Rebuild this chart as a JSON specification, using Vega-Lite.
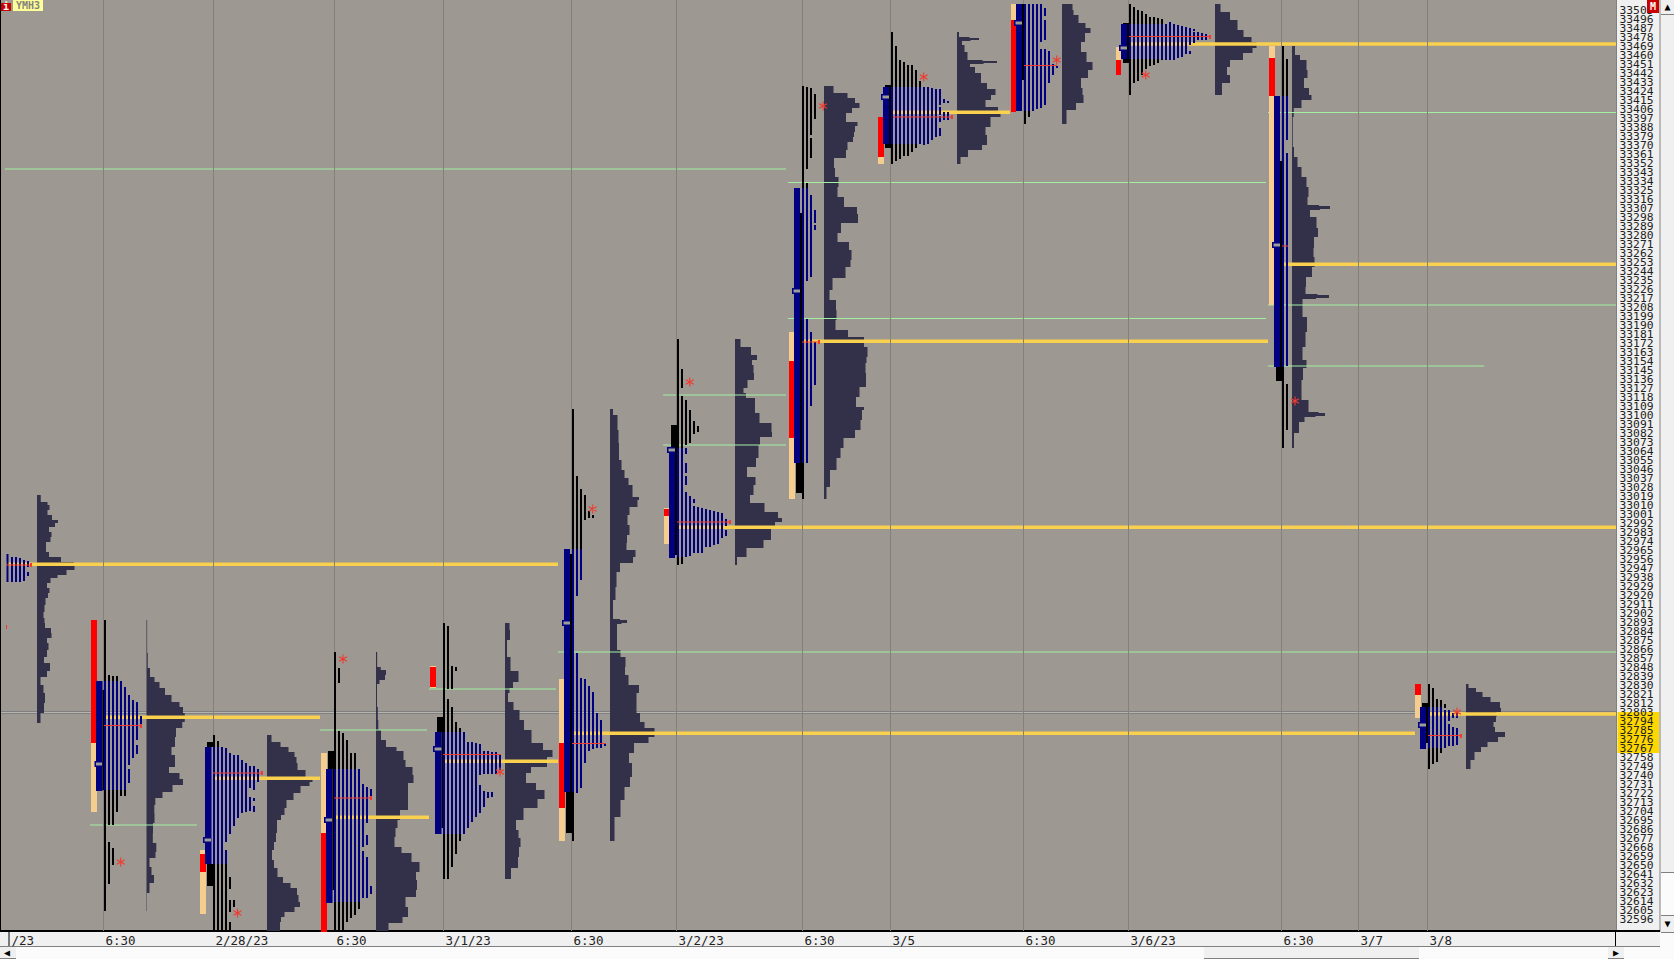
{"$schema":"https://vega.github.io/schema/vega-lite/v6.json","width":1617,"height":931,"autosize":{"type":"none"},"padding":{"left":0,"top":0,"right":57,"bottom":28},"background":"#f0f0f0","view":{"fill":"#9d9891","stroke":null},"config":{"axis":{"labelOverlap":false}},
"datasets":{
"levels":[{"y":33505},{"y":33496},{"y":33487},{"y":33478},{"y":33469},{"y":33460},{"y":33451},{"y":33442},{"y":33433},{"y":33424},{"y":33415},{"y":33406},{"y":33397},{"y":33388},{"y":33379},{"y":33370},{"y":33361},{"y":33352},{"y":33343},{"y":33334},{"y":33325},{"y":33316},{"y":33307},{"y":33298},{"y":33289},{"y":33280},{"y":33271},{"y":33262},{"y":33253},{"y":33244},{"y":33235},{"y":33226},{"y":33217},{"y":33208},{"y":33199},{"y":33190},{"y":33181},{"y":33172},{"y":33163},{"y":33154},{"y":33145},{"y":33136},{"y":33127},{"y":33118},{"y":33109},{"y":33100},{"y":33091},{"y":33082},{"y":33073},{"y":33064},{"y":33055},{"y":33046},{"y":33037},{"y":33028},{"y":33019},{"y":33010},{"y":33001},{"y":32992},{"y":32983},{"y":32974},{"y":32965},{"y":32956},{"y":32947},{"y":32938},{"y":32929},{"y":32920},{"y":32911},{"y":32902},{"y":32893},{"y":32884},{"y":32875},{"y":32866},{"y":32857},{"y":32848},{"y":32839},{"y":32830},{"y":32821},{"y":32812},{"y":32803},{"y":32794},{"y":32785},{"y":32776},{"y":32767},{"y":32758},{"y":32749},{"y":32740},{"y":32731},{"y":32722},{"y":32713},{"y":32704},{"y":32695},{"y":32686},{"y":32677},{"y":32668},{"y":32659},{"y":32650},{"y":32641},{"y":32632},{"y":32623},{"y":32614},{"y":32605},{"y":32596}],
"back":[
{"s":"h","a":1617.5,"b":1659,"t":32804,"u":32763},
{"s":"x","a":1616,"b":1617,"t":33516,"u":32585},
{"s":"w","a":1660,"b":1674,"t":33516,"u":32557},
{"s":"c","a":1660.5,"b":1674,"t":33501,"u":32644},
{"s":"x","a":1659.5,"b":1660.5,"t":33516,"u":32584},
{"s":"x","a":1661,"b":1674,"t":32644,"u":32643},
{"s":"c","a":1661,"b":1674,"t":33516,"u":33502},
{"s":"x","a":1661,"b":1674,"t":33502,"u":33501},
{"s":"c","a":1661,"b":1674,"t":32600,"u":32584},
{"s":"x","a":1661,"b":1674,"t":32584,"u":32583},
{"s":"x","a":1661,"b":1674,"t":32601,"u":32600},
{"s":"w","a":0,"b":1674,"t":32569,"u":32557},
{"s":"x","a":0,"b":1660,"t":32570,"u":32569},
{"s":"c","a":1204,"b":1419,"t":32569,"u":32558},
{"s":"x","a":1204,"b":1419,"t":32558,"u":32557},
{"s":"c","a":0,"b":16,"t":32569,"u":32558},
{"s":"x","a":0,"b":16,"t":32558,"u":32557},
{"s":"c","a":1608,"b":1624,"t":32569,"u":32558},
{"s":"x","a":1608,"b":1624,"t":32558,"u":32557},
{"s":"k","a":0,"b":1660,"t":32586,"u":32584},
{"s":"k","a":1615,"b":1616,"t":32585,"u":32570},
{"s":"k","a":8.5,"b":9.5,"t":32585,"u":32570},
{"s":"k","a":0,"b":1,"t":33516,"u":32585},
{"s":"x","a":1,"b":1616,"t":32805,"u":32804},
{"s":"v","a":1,"b":1616,"t":32804,"u":32803},
{"s":"x","a":1,"b":1616,"t":32803,"u":32802}
],
"vp":[
{"p":0,"b":37,"x":38.5,"y":33021},{"p":0,"b":37,"x":43,"y":33014},{"p":0,"b":37,"x":52,"y":33011},{"p":0,"b":37,"x":47,"y":33006},{"p":0,"b":37,"x":48,"y":33001},{"p":0,"b":37,"x":56,"y":32996},{"p":0,"b":37,"x":60,"y":32993},{"p":0,"b":37,"x":50,"y":32989},{"p":0,"b":37,"x":48,"y":32984},{"p":0,"b":37,"x":55,"y":32979},{"p":0,"b":37,"x":46,"y":32974},{"p":0,"b":37,"x":46,"y":32969},{"p":0,"b":37,"x":46,"y":32964},{"p":0,"b":37,"x":52,"y":32959},{"p":0,"b":37,"x":70,"y":32954},{"p":0,"b":37,"x":78,"y":32950},{"p":0,"b":37,"x":71,"y":32946},{"p":0,"b":37,"x":62,"y":32941},{"p":0,"b":37,"x":53,"y":32938},{"p":0,"b":37,"x":48,"y":32933},{"p":0,"b":37,"x":46,"y":32928},{"p":0,"b":37,"x":53,"y":32923},{"p":0,"b":37,"x":43,"y":32918},{"p":0,"b":37,"x":48,"y":32911},{"p":0,"b":37,"x":41,"y":32904},{"p":0,"b":37,"x":46,"y":32898},{"p":0,"b":37,"x":43,"y":32893},{"p":0,"b":37,"x":47,"y":32888},{"p":0,"b":37,"x":55,"y":32883},{"p":0,"b":37,"x":48,"y":32878},{"p":0,"b":37,"x":46,"y":32873},{"p":0,"b":37,"x":51,"y":32866},{"p":0,"b":37,"x":43,"y":32859},{"p":0,"b":37,"x":45,"y":32853},{"p":0,"b":37,"x":55,"y":32845},{"p":0,"b":37,"x":39,"y":32839},{"p":0,"b":37,"x":42,"y":32831},{"p":0,"b":37,"x":45,"y":32823},{"p":0,"b":37,"x":45,"y":32813},{"p":0,"b":37,"x":43,"y":32803},{"p":0,"b":37,"x":38,"y":32793},
{"p":1,"b":146.5,"x":146.8,"y":32896},{"p":1,"b":146.5,"x":147.5,"y":32863},{"p":1,"b":146.5,"x":148,"y":32848},{"p":1,"b":146.5,"x":152,"y":32839},{"p":1,"b":146.5,"x":157,"y":32834},{"p":1,"b":146.5,"x":162,"y":32828},{"p":1,"b":146.5,"x":168,"y":32821},{"p":1,"b":146.5,"x":175,"y":32814},{"p":1,"b":146.5,"x":184,"y":32809},{"p":1,"b":146.5,"x":182,"y":32803},{"p":1,"b":146.5,"x":187.5,"y":32794},{"p":1,"b":146.5,"x":177,"y":32788},{"p":1,"b":146.5,"x":175,"y":32779},{"p":1,"b":146.5,"x":175,"y":32769},{"p":1,"b":146.5,"x":168,"y":32761},{"p":1,"b":146.5,"x":182,"y":32756},{"p":1,"b":146.5,"x":168,"y":32749},{"p":1,"b":146.5,"x":170,"y":32743},{"p":1,"b":146.5,"x":189,"y":32737},{"p":1,"b":146.5,"x":177,"y":32731},{"p":1,"b":146.5,"x":168,"y":32724},{"p":1,"b":146.5,"x":157,"y":32718},{"p":1,"b":146.5,"x":153.6,"y":32711},{"p":1,"b":146.5,"x":155,"y":32703},{"p":1,"b":146.5,"x":154,"y":32693},{"p":1,"b":146.5,"x":152,"y":32683},{"p":1,"b":146.5,"x":153.6,"y":32673},{"p":1,"b":146.5,"x":159,"y":32664},{"p":1,"b":146.5,"x":152,"y":32658},{"p":1,"b":146.5,"x":147,"y":32649},{"p":1,"b":146.5,"x":156,"y":32641},{"p":1,"b":146.5,"x":152,"y":32633},{"p":1,"b":146.5,"x":147,"y":32623},{"p":1,"b":146.5,"x":146.8,"y":32605},
{"p":2,"b":267,"x":268,"y":32781},{"p":2,"b":267,"x":275,"y":32774},{"p":2,"b":267,"x":286,"y":32769},{"p":2,"b":267,"x":291,"y":32764},{"p":2,"b":267,"x":298,"y":32759},{"p":2,"b":267,"x":295,"y":32753},{"p":2,"b":267,"x":300,"y":32746},{"p":2,"b":267,"x":311,"y":32739},{"p":2,"b":267,"x":314,"y":32734},{"p":2,"b":267,"x":305,"y":32730},{"p":2,"b":267,"x":296,"y":32723},{"p":2,"b":267,"x":291,"y":32716},{"p":2,"b":267,"x":282,"y":32708},{"p":2,"b":267,"x":287,"y":32701},{"p":2,"b":267,"x":275,"y":32696},{"p":2,"b":267,"x":279,"y":32689},{"p":2,"b":267,"x":275,"y":32683},{"p":2,"b":267,"x":277,"y":32674},{"p":2,"b":267,"x":271,"y":32666},{"p":2,"b":267,"x":273,"y":32656},{"p":2,"b":267,"x":275,"y":32648},{"p":2,"b":267,"x":280,"y":32639},{"p":2,"b":267,"x":286,"y":32633},{"p":2,"b":267,"x":295,"y":32628},{"p":2,"b":267,"x":299,"y":32621},{"p":2,"b":267,"x":298,"y":32614},{"p":2,"b":267,"x":302,"y":32609},{"p":2,"b":267,"x":287,"y":32604},{"p":2,"b":267,"x":282,"y":32599},{"p":2,"b":267,"x":280,"y":32594},{"p":2,"b":267,"x":280,"y":32585},
{"p":3,"b":376,"x":376.8,"y":32864},{"p":3,"b":376,"x":377.5,"y":32849},{"p":3,"b":376,"x":384,"y":32846},{"p":3,"b":376,"x":388,"y":32841},{"p":3,"b":376,"x":382,"y":32836},{"p":3,"b":376,"x":377,"y":32832},{"p":3,"b":376,"x":377,"y":32809},{"p":3,"b":376,"x":378.6,"y":32796},{"p":3,"b":376,"x":378,"y":32786},{"p":3,"b":376,"x":384,"y":32776},{"p":3,"b":376,"x":388,"y":32769},{"p":3,"b":376,"x":405,"y":32765},{"p":3,"b":376,"x":402,"y":32756},{"p":3,"b":376,"x":409,"y":32749},{"p":3,"b":376,"x":416,"y":32741},{"p":3,"b":376,"x":411,"y":32733},{"p":3,"b":376,"x":405,"y":32723},{"p":3,"b":376,"x":411,"y":32713},{"p":3,"b":376,"x":405,"y":32706},{"p":3,"b":376,"x":395,"y":32696},{"p":3,"b":376,"x":400,"y":32688},{"p":3,"b":376,"x":391,"y":32679},{"p":3,"b":376,"x":398,"y":32669},{"p":3,"b":376,"x":405,"y":32663},{"p":3,"b":376,"x":418,"y":32654},{"p":3,"b":376,"x":421,"y":32644},{"p":3,"b":376,"x":411,"y":32636},{"p":3,"b":376,"x":423,"y":32626},{"p":3,"b":376,"x":409,"y":32619},{"p":3,"b":376,"x":402,"y":32609},{"p":3,"b":376,"x":414,"y":32599},{"p":3,"b":376,"x":391,"y":32593},{"p":3,"b":376,"x":386,"y":32585},
{"p":4,"b":505,"x":506,"y":32893},{"p":4,"b":505,"x":513,"y":32886},{"p":4,"b":505,"x":507,"y":32876},{"p":4,"b":505,"x":507,"y":32859},{"p":4,"b":505,"x":514,"y":32845},{"p":4,"b":505,"x":523,"y":32839},{"p":4,"b":505,"x":514,"y":32834},{"p":4,"b":505,"x":512,"y":32828},{"p":4,"b":505,"x":507,"y":32823},{"p":4,"b":505,"x":509,"y":32814},{"p":4,"b":505,"x":518,"y":32806},{"p":4,"b":505,"x":521,"y":32796},{"p":4,"b":505,"x":527,"y":32786},{"p":4,"b":505,"x":536,"y":32773},{"p":4,"b":505,"x":550,"y":32766},{"p":4,"b":505,"x":555,"y":32759},{"p":4,"b":505,"x":539,"y":32749},{"p":4,"b":505,"x":523,"y":32743},{"p":4,"b":505,"x":529,"y":32733},{"p":4,"b":505,"x":543,"y":32726},{"p":4,"b":505,"x":546,"y":32717},{"p":4,"b":505,"x":529,"y":32708},{"p":4,"b":505,"x":518,"y":32696},{"p":4,"b":505,"x":514,"y":32686},{"p":4,"b":505,"x":523,"y":32678},{"p":4,"b":505,"x":518,"y":32669},{"p":4,"b":505,"x":520,"y":32659},{"p":4,"b":505,"x":516,"y":32648},{"p":4,"b":505,"x":506,"y":32637},
{"p":5,"b":610,"x":611,"y":33107},{"p":5,"b":610,"x":615,"y":33101},{"p":5,"b":610,"x":620,"y":33086},{"p":5,"b":610,"x":617,"y":33073},{"p":5,"b":610,"x":621,"y":33056},{"p":5,"b":610,"x":622,"y":33046},{"p":5,"b":610,"x":627,"y":33038},{"p":5,"b":610,"x":630,"y":33031},{"p":5,"b":610,"x":635,"y":33019},{"p":5,"b":610,"x":643,"y":33016},{"p":5,"b":610,"x":632,"y":33009},{"p":5,"b":610,"x":627,"y":33001},{"p":5,"b":610,"x":628,"y":32991},{"p":5,"b":610,"x":631,"y":32981},{"p":5,"b":610,"x":623,"y":32973},{"p":5,"b":610,"x":630,"y":32966},{"p":5,"b":610,"x":641,"y":32959},{"p":5,"b":610,"x":625,"y":32953},{"p":5,"b":610,"x":615,"y":32944},{"p":5,"b":610,"x":618,"y":32929},{"p":5,"b":610,"x":613,"y":32916},{"p":5,"b":610,"x":613,"y":32897},{"p":5,"b":610,"x":627,"y":32896},{"p":5,"b":610,"x":627,"y":32893},{"p":5,"b":610,"x":616,"y":32892},{"p":5,"b":610,"x":618,"y":32866},{"p":5,"b":610,"x":623,"y":32859},{"p":5,"b":610,"x":628,"y":32849},{"p":5,"b":610,"x":622,"y":32841},{"p":5,"b":610,"x":635,"y":32831},{"p":5,"b":610,"x":643,"y":32823},{"p":5,"b":610,"x":630,"y":32814},{"p":5,"b":610,"x":643,"y":32803},{"p":5,"b":610,"x":637,"y":32794},{"p":5,"b":610,"x":652,"y":32788},{"p":5,"b":610,"x":657,"y":32779},{"p":5,"b":610,"x":640,"y":32773},{"p":5,"b":610,"x":628,"y":32763},{"p":5,"b":610,"x":630,"y":32753},{"p":5,"b":610,"x":634,"y":32739},{"p":5,"b":610,"x":626,"y":32729},{"p":5,"b":610,"x":623,"y":32716},{"p":5,"b":610,"x":618,"y":32699},{"p":5,"b":610,"x":611,"y":32675},
{"p":6,"b":735,"x":736,"y":33177},{"p":6,"b":735,"x":745,"y":33169},{"p":6,"b":735,"x":757,"y":33161},{"p":6,"b":735,"x":757,"y":33156},{"p":6,"b":735,"x":747,"y":33151},{"p":6,"b":735,"x":760,"y":33143},{"p":6,"b":735,"x":748,"y":33136},{"p":6,"b":735,"x":747,"y":33128},{"p":6,"b":735,"x":740,"y":33123},{"p":6,"b":735,"x":752,"y":33118},{"p":6,"b":735,"x":758,"y":33109},{"p":6,"b":735,"x":752,"y":33103},{"p":6,"b":735,"x":767,"y":33093},{"p":6,"b":735,"x":776,"y":33084},{"p":6,"b":735,"x":768,"y":33079},{"p":6,"b":735,"x":752,"y":33071},{"p":6,"b":735,"x":765,"y":33058},{"p":6,"b":735,"x":747,"y":33049},{"p":6,"b":735,"x":747,"y":33039},{"p":6,"b":735,"x":764,"y":33031},{"p":6,"b":735,"x":743,"y":33021},{"p":6,"b":735,"x":757,"y":33013},{"p":6,"b":735,"x":772,"y":33004},{"p":6,"b":735,"x":784,"y":32998},{"p":6,"b":735,"x":780,"y":32994},{"p":6,"b":735,"x":770,"y":32988},{"p":6,"b":735,"x":772,"y":32976},{"p":6,"b":735,"x":755,"y":32968},{"p":6,"b":735,"x":738,"y":32959},{"p":6,"b":735,"x":736,"y":32951},
{"p":7,"b":824,"x":825,"y":33430},{"p":7,"b":824,"x":842,"y":33423},{"p":7,"b":824,"x":853,"y":33418},{"p":7,"b":824,"x":857,"y":33413},{"p":7,"b":824,"x":862,"y":33408},{"p":7,"b":824,"x":842,"y":33403},{"p":7,"b":824,"x":850,"y":33394},{"p":7,"b":824,"x":865,"y":33390},{"p":7,"b":824,"x":845,"y":33384},{"p":7,"b":824,"x":863,"y":33379},{"p":7,"b":824,"x":843,"y":33374},{"p":7,"b":824,"x":852,"y":33366},{"p":7,"b":824,"x":840,"y":33358},{"p":7,"b":824,"x":828,"y":33348},{"p":7,"b":824,"x":842,"y":33339},{"p":7,"b":824,"x":835,"y":33329},{"p":7,"b":824,"x":840,"y":33319},{"p":7,"b":824,"x":848,"y":33309},{"p":7,"b":824,"x":866,"y":33302},{"p":7,"b":824,"x":850,"y":33293},{"p":7,"b":824,"x":832,"y":33283},{"p":7,"b":824,"x":843,"y":33274},{"p":7,"b":824,"x":855,"y":33266},{"p":7,"b":824,"x":848,"y":33256},{"p":7,"b":824,"x":853,"y":33249},{"p":7,"b":824,"x":838,"y":33238},{"p":7,"b":824,"x":827,"y":33226},{"p":7,"b":824,"x":832,"y":33216},{"p":7,"b":824,"x":840,"y":33206},{"p":7,"b":824,"x":833,"y":33196},{"p":7,"b":824,"x":838,"y":33186},{"p":7,"b":824,"x":858,"y":33179},{"p":7,"b":824,"x":870,"y":33169},{"p":7,"b":824,"x":865,"y":33159},{"p":7,"b":824,"x":868,"y":33153},{"p":7,"b":824,"x":863,"y":33143},{"p":7,"b":824,"x":869,"y":33129},{"p":7,"b":824,"x":850,"y":33119},{"p":7,"b":824,"x":862,"y":33109},{"p":7,"b":824,"x":866,"y":33106},{"p":7,"b":824,"x":858,"y":33096},{"p":7,"b":824,"x":863,"y":33086},{"p":7,"b":824,"x":847,"y":33078},{"p":7,"b":824,"x":840,"y":33068},{"p":7,"b":824,"x":841,"y":33058},{"p":7,"b":824,"x":832,"y":33046},{"p":7,"b":824,"x":828,"y":33029},{"p":7,"b":824,"x":825,"y":33017},
{"p":8,"b":957,"x":958,"y":33484},{"p":8,"b":957,"x":960,"y":33479},{"p":8,"b":957,"x":979,"y":33478},{"p":8,"b":957,"x":979,"y":33476},{"p":8,"b":957,"x":962,"y":33475},{"p":8,"b":957,"x":962,"y":33471},{"p":8,"b":957,"x":967,"y":33464},{"p":8,"b":957,"x":968,"y":33456},{"p":8,"b":957,"x":997,"y":33455},{"p":8,"b":957,"x":997,"y":33453},{"p":8,"b":957,"x":970,"y":33452},{"p":8,"b":957,"x":970,"y":33449},{"p":8,"b":957,"x":980,"y":33443},{"p":8,"b":957,"x":982,"y":33433},{"p":8,"b":957,"x":992,"y":33427},{"p":8,"b":957,"x":999,"y":33421},{"p":8,"b":957,"x":983,"y":33416},{"p":8,"b":957,"x":988,"y":33409},{"p":8,"b":957,"x":1008,"y":33404},{"p":8,"b":957,"x":993,"y":33399},{"p":8,"b":957,"x":988,"y":33389},{"p":8,"b":957,"x":983,"y":33381},{"p":8,"b":957,"x":991,"y":33371},{"p":8,"b":957,"x":973,"y":33366},{"p":8,"b":957,"x":963,"y":33359},{"p":8,"b":957,"x":958,"y":33352},
{"p":9,"b":1062,"x":1075,"y":33512},{"p":9,"b":1062,"x":1070,"y":33506},{"p":9,"b":1062,"x":1077,"y":33501},{"p":9,"b":1062,"x":1080,"y":33493},{"p":9,"b":1062,"x":1091,"y":33488},{"p":9,"b":1062,"x":1090,"y":33483},{"p":9,"b":1062,"x":1080,"y":33474},{"p":9,"b":1062,"x":1082,"y":33464},{"p":9,"b":1062,"x":1091,"y":33454},{"p":9,"b":1062,"x":1094,"y":33446},{"p":9,"b":1062,"x":1082,"y":33438},{"p":9,"b":1062,"x":1080,"y":33428},{"p":9,"b":1062,"x":1085,"y":33421},{"p":9,"b":1062,"x":1082,"y":33413},{"p":9,"b":1062,"x":1070,"y":33406},{"p":9,"b":1062,"x":1063,"y":33392},
{"p":10,"b":1215,"x":1216,"y":33512},{"p":10,"b":1215,"x":1225,"y":33504},{"p":10,"b":1215,"x":1235,"y":33496},{"p":10,"b":1215,"x":1240,"y":33486},{"p":10,"b":1215,"x":1247,"y":33479},{"p":10,"b":1215,"x":1256,"y":33474},{"p":10,"b":1215,"x":1257,"y":33468},{"p":10,"b":1215,"x":1248,"y":33463},{"p":10,"b":1215,"x":1238,"y":33456},{"p":10,"b":1215,"x":1222,"y":33449},{"p":10,"b":1215,"x":1232,"y":33441},{"p":10,"b":1215,"x":1228,"y":33433},{"p":10,"b":1215,"x":1216,"y":33421},
{"p":11,"b":1292,"x":1293,"y":33470},{"p":11,"b":1292,"x":1297,"y":33461},{"p":11,"b":1292,"x":1303,"y":33456},{"p":11,"b":1292,"x":1310,"y":33446},{"p":11,"b":1292,"x":1305,"y":33438},{"p":11,"b":1292,"x":1303,"y":33428},{"p":11,"b":1292,"x":1315,"y":33421},{"p":11,"b":1292,"x":1308,"y":33416},{"p":11,"b":1292,"x":1295,"y":33408},{"p":11,"b":1292,"x":1292.5,"y":33399},{"p":11,"b":1292,"x":1293,"y":33369},{"p":11,"b":1292,"x":1295,"y":33359},{"p":11,"b":1292,"x":1300,"y":33349},{"p":11,"b":1292,"x":1303,"y":33339},{"p":11,"b":1292,"x":1310,"y":33329},{"p":11,"b":1292,"x":1307,"y":33319},{"p":11,"b":1292,"x":1308,"y":33311},{"p":11,"b":1292,"x":1330,"y":33310},{"p":11,"b":1292,"x":1330,"y":33307},{"p":11,"b":1292,"x":1310,"y":33306},{"p":11,"b":1292,"x":1310,"y":33299},{"p":11,"b":1292,"x":1323,"y":33288},{"p":11,"b":1292,"x":1313,"y":33279},{"p":11,"b":1292,"x":1315,"y":33268},{"p":11,"b":1292,"x":1312,"y":33259},{"p":11,"b":1292,"x":1317,"y":33249},{"p":11,"b":1292,"x":1307,"y":33239},{"p":11,"b":1292,"x":1305,"y":33229},{"p":11,"b":1292,"x":1306,"y":33222},{"p":11,"b":1292,"x":1329,"y":33221},{"p":11,"b":1292,"x":1329,"y":33218},{"p":11,"b":1292,"x":1303,"y":33217},{"p":11,"b":1292,"x":1302,"y":33209},{"p":11,"b":1292,"x":1303,"y":33199},{"p":11,"b":1292,"x":1311,"y":33184},{"p":11,"b":1292,"x":1300,"y":33169},{"p":11,"b":1292,"x":1305,"y":33156},{"p":11,"b":1292,"x":1308,"y":33148},{"p":11,"b":1292,"x":1298,"y":33136},{"p":11,"b":1292,"x":1305,"y":33116},{"p":11,"b":1292,"x":1312,"y":33104},{"p":11,"b":1292,"x":1325,"y":33103},{"p":11,"b":1292,"x":1325,"y":33100},{"p":11,"b":1292,"x":1306,"y":33099},{"p":11,"b":1292,"x":1303,"y":33094},{"p":11,"b":1292,"x":1295,"y":33083},{"p":11,"b":1292,"x":1293,"y":33068},
{"p":12,"b":1466,"x":1467,"y":32832},{"p":12,"b":1466,"x":1470,"y":32828},{"p":12,"b":1466,"x":1482,"y":32824},{"p":12,"b":1466,"x":1483,"y":32819},{"p":12,"b":1466,"x":1498,"y":32814},{"p":12,"b":1466,"x":1502,"y":32808},{"p":12,"b":1466,"x":1500,"y":32804},{"p":12,"b":1466,"x":1493,"y":32799},{"p":12,"b":1466,"x":1499,"y":32794},{"p":12,"b":1466,"x":1488,"y":32789},{"p":12,"b":1466,"x":1502,"y":32784},{"p":12,"b":1466,"x":1508,"y":32779},{"p":12,"b":1466,"x":1488,"y":32774},{"p":12,"b":1466,"x":1487,"y":32769},{"p":12,"b":1466,"x":1475,"y":32764},{"p":12,"b":1466,"x":1474,"y":32756},{"p":12,"b":1466,"x":1467,"y":32747}
],
"front":[
{"s":"g","a":5,"b":786,"t":33347.5,"u":33346.5},{"s":"g","a":788,"b":1266,"t":33334,"u":33333},{"s":"g","a":788,"b":1266,"t":33198,"u":33197},{"s":"g","a":1268,"b":1616,"t":33404,"u":33403},{"s":"g","a":663,"b":786,"t":33121.5,"u":33120.5},{"s":"g","a":663,"b":786,"t":33071.5,"u":33070.5},{"s":"g","a":558,"b":1616,"t":32864.5,"u":32863.5},{"s":"g","a":1268,"b":1616,"t":33211.5,"u":33210.5},{"s":"g","a":1268,"b":1484,"t":33150.5,"u":33149.5},{"s":"g","a":90,"b":197,"t":32691.5,"u":32690.5},{"s":"g","a":320,"b":427,"t":32786.5,"u":32785.5},{"s":"g","a":429,"b":556,"t":32827.5,"u":32826.5},
{"s":"p","a":6,"b":558,"t":32953.4,"u":32950},{"s":"p","a":106,"b":320,"t":32800.4,"u":32797},{"s":"p","a":214,"b":320,"t":32739.4,"u":32736},{"s":"p","a":336,"b":429,"t":32700.4,"u":32697},{"s":"p","a":445,"b":558,"t":32756.4,"u":32753},{"s":"p","a":574,"b":1415,"t":32784.4,"u":32781},{"s":"p","a":679,"b":1616,"t":32990.4,"u":32987},{"s":"p","a":802,"b":1268,"t":33176.4,"u":33173},{"s":"p","a":893,"b":1010,"t":33405.4,"u":33402},{"s":"p","a":1131,"b":1616,"t":33473.7,"u":33470.3},{"s":"p","a":1284,"b":1616,"t":33253.4,"u":33250},{"s":"p","a":1430,"b":1616,"t":32803.7,"u":32800.3},
{"s":"d","a":103,"b":104,"t":33516,"u":32585},{"s":"d","a":213,"b":214,"t":33516,"u":32585},{"s":"d","a":334,"b":335,"t":33516,"u":32585},{"s":"d","a":443,"b":444,"t":33516,"u":32585},{"s":"d","a":571,"b":572,"t":33516,"u":32585},{"s":"d","a":676,"b":677,"t":33516,"u":32585},{"s":"d","a":802,"b":803,"t":33516,"u":32585},{"s":"d","a":890,"b":891,"t":33516,"u":32585},{"s":"d","a":1023,"b":1024,"t":33516,"u":32585},{"s":"d","a":1128,"b":1129,"t":33516,"u":32585},{"s":"d","a":1281,"b":1282,"t":33516,"u":32585},{"s":"d","a":1358,"b":1359,"t":33516,"u":32585},{"s":"d","a":1427,"b":1428,"t":33516,"u":32585},
{"s":"n","a":6.5,"b":8.5,"t":32962,"u":32934},{"s":"n","a":11,"b":13,"t":32959,"u":32934},{"s":"n","a":15,"b":17,"t":32959,"u":32934},{"s":"n","a":19,"b":21,"t":32958,"u":32934},{"s":"n","a":23,"b":25,"t":32956,"u":32935},{"s":"n","a":27,"b":29,"t":32955,"u":32949},{"s":"n","a":27,"b":29,"t":32944,"u":32940},
{"s":"e","a":6,"b":7,"t":32891,"u":32887},{"s":"e","a":6.5,"b":32,"t":32951.5,"u":32950.5},{"s":"e","a":30,"b":32,"t":32953,"u":32949},
{"s":"r","a":91,"b":97,"t":32896,"u":32773},{"s":"o","a":91,"b":97,"t":32773,"u":32704},{"s":"n","a":96,"b":102.5,"t":32835,"u":32725},{"s":"k","a":102.5,"b":104,"t":32826,"u":32726},
{"s":"k","a":104,"b":106,"t":32896,"u":32835},{"s":"n","a":104,"b":106,"t":32835,"u":32726},{"s":"k","a":104,"b":106,"t":32726,"u":32605},
{"s":"k","a":108,"b":110,"t":32841,"u":32835},{"s":"n","a":108,"b":110,"t":32835,"u":32726},{"s":"k","a":108,"b":110,"t":32726,"u":32691},{"s":"k","a":108,"b":110,"t":32674,"u":32632},
{"s":"k","a":112,"b":114,"t":32840,"u":32835},{"s":"n","a":112,"b":114,"t":32835,"u":32726},{"s":"k","a":112,"b":114,"t":32726,"u":32691},{"s":"k","a":112,"b":114,"t":32668,"u":32651},
{"s":"k","a":116,"b":118,"t":32840,"u":32835},{"s":"n","a":116,"b":118,"t":32835,"u":32726},{"s":"k","a":116,"b":118,"t":32726,"u":32704},
{"s":"n","a":120,"b":122,"t":32835,"u":32726},{"s":"k","a":120,"b":122,"t":32726,"u":32720},{"s":"n","a":124,"b":126,"t":32829,"u":32726},{"s":"k","a":124,"b":126,"t":32726,"u":32720},
{"s":"n","a":128,"b":130,"t":32821,"u":32751},{"s":"n","a":128,"b":130,"t":32747,"u":32733},{"s":"n","a":132,"b":134,"t":32816,"u":32758},{"s":"n","a":136,"b":138,"t":32814,"u":32776},{"s":"n","a":136,"b":138,"t":32771,"u":32762},{"s":"n","a":140,"b":142,"t":32800,"u":32789},
{"s":"n","a":94.5,"b":102.5,"t":32755,"u":32749},{"s":"m","a":96,"b":102,"t":32753.5,"u":32750.5},{"s":"e","a":104,"b":141,"t":32791,"u":32790},{"s":"e","a":140,"b":142,"t":32792,"u":32788},
{"s":"o","a":200,"b":206,"t":32666,"u":32602},{"s":"r","a":200,"b":206,"t":32662,"u":32644},{"s":"n","a":205,"b":211.5,"t":32769,"u":32652},{"s":"k","a":207,"b":214,"t":32774,"u":32769},{"s":"k","a":207,"b":214,"t":32652,"u":32630},
{"s":"k","a":213,"b":215,"t":32781,"u":32769},{"s":"n","a":213,"b":215,"t":32769,"u":32652},{"s":"k","a":213,"b":215,"t":32652,"u":32584},
{"s":"k","a":217,"b":219,"t":32775,"u":32769},{"s":"n","a":217,"b":219,"t":32769,"u":32652},{"s":"k","a":217,"b":219,"t":32652,"u":32584},
{"s":"n","a":221,"b":223,"t":32769,"u":32652},{"s":"k","a":221,"b":223,"t":32652,"u":32584},
{"s":"n","a":225,"b":227,"t":32768,"u":32674},{"s":"n","a":225,"b":227,"t":32666,"u":32652},{"s":"k","a":225,"b":227,"t":32652,"u":32584},
{"s":"n","a":229,"b":231,"t":32763,"u":32682},{"s":"k","a":229,"b":231,"t":32639,"u":32627},{"s":"k","a":229,"b":231,"t":32616,"u":32604},{"s":"k","a":229,"b":231,"t":32594,"u":32584},
{"s":"n","a":233,"b":235,"t":32761,"u":32690},{"s":"k","a":233,"b":235,"t":32616,"u":32609},
{"s":"n","a":237,"b":239,"t":32761,"u":32698},{"s":"n","a":241,"b":243,"t":32756,"u":32703},{"s":"n","a":245,"b":247,"t":32753,"u":32704},{"s":"n","a":249,"b":251,"t":32750,"u":32728},{"s":"n","a":249,"b":251,"t":32719,"u":32705},{"s":"n","a":253,"b":255,"t":32750,"u":32726},{"s":"n","a":253,"b":255,"t":32718,"u":32715},{"s":"n","a":253,"b":255,"t":32710,"u":32704},{"s":"n","a":257,"b":259,"t":32747,"u":32734},{"s":"n","a":261,"b":263,"t":32744,"u":32741},
{"s":"n","a":203,"b":211,"t":32679,"u":32673},{"s":"m","a":204.5,"b":211,"t":32677.5,"u":32674.5},{"s":"e","a":213,"b":262,"t":32743.5,"u":32742.5},{"s":"e","a":261,"b":263,"t":32745,"u":32741},
{"s":"o","a":321,"b":327,"t":32763,"u":32683},{"s":"r","a":321,"b":327,"t":32683,"u":32584},{"s":"n","a":326,"b":332.5,"t":32747,"u":32613},{"s":"k","a":328,"b":335,"t":32765,"u":32747},{"s":"k","a":332.5,"b":334,"t":32747,"u":32626},
{"s":"k","a":334,"b":336,"t":32864,"u":32747},{"s":"n","a":334,"b":336,"t":32747,"u":32614},{"s":"k","a":334,"b":336,"t":32614,"u":32584},
{"s":"k","a":338,"b":340,"t":32848,"u":32833},{"s":"k","a":338,"b":340,"t":32785,"u":32747},{"s":"n","a":338,"b":340,"t":32747,"u":32614},{"s":"k","a":338,"b":340,"t":32614,"u":32584},
{"s":"k","a":342,"b":344,"t":32783,"u":32747},{"s":"n","a":342,"b":344,"t":32747,"u":32614},{"s":"k","a":342,"b":344,"t":32614,"u":32584},
{"s":"k","a":346,"b":348,"t":32776,"u":32747},{"s":"n","a":346,"b":348,"t":32747,"u":32614},{"s":"k","a":346,"b":348,"t":32614,"u":32594},
{"s":"k","a":350,"b":352,"t":32763,"u":32747},{"s":"n","a":350,"b":352,"t":32747,"u":32614},{"s":"k","a":350,"b":352,"t":32614,"u":32598},
{"s":"k","a":354,"b":356,"t":32763,"u":32747},{"s":"n","a":354,"b":356,"t":32747,"u":32614},{"s":"k","a":354,"b":356,"t":32614,"u":32601},
{"s":"n","a":358,"b":360,"t":32747,"u":32614},{"s":"k","a":358,"b":360,"t":32614,"u":32607},
{"s":"n","a":362,"b":364,"t":32732,"u":32669},{"s":"n","a":362,"b":364,"t":32665,"u":32618},{"s":"n","a":366,"b":368,"t":32729,"u":32693},{"s":"n","a":366,"b":368,"t":32681,"u":32671},{"s":"n","a":366,"b":368,"t":32659,"u":32618},{"s":"n","a":370,"b":372,"t":32727,"u":32717},{"s":"n","a":370,"b":372,"t":32630,"u":32622},
{"s":"n","a":324,"b":332,"t":32699,"u":32693},{"s":"m","a":325.5,"b":332,"t":32697.5,"u":32694.5},{"s":"e","a":334,"b":371,"t":32718.5,"u":32717.5},{"s":"e","a":370,"b":372,"t":32720,"u":32716},
{"s":"o","a":430,"b":436,"t":32850,"u":32828},{"s":"r","a":430,"b":436,"t":32849,"u":32829},{"s":"n","a":435,"b":441.5,"t":32784,"u":32682},{"s":"k","a":437,"b":445,"t":32799,"u":32784},{"s":"k","a":441.5,"b":443,"t":32784,"u":32688},
{"s":"k","a":443,"b":445,"t":32893,"u":32784},{"s":"n","a":443,"b":445,"t":32784,"u":32682},{"s":"k","a":443,"b":445,"t":32682,"u":32637},
{"s":"k","a":447,"b":449,"t":32890,"u":32827},{"s":"k","a":447,"b":449,"t":32817,"u":32784},{"s":"n","a":447,"b":449,"t":32784,"u":32682},{"s":"k","a":447,"b":449,"t":32682,"u":32637},
{"s":"k","a":451,"b":453,"t":32850,"u":32827},{"s":"k","a":451,"b":453,"t":32809,"u":32784},{"s":"n","a":451,"b":453,"t":32784,"u":32682},{"s":"k","a":451,"b":453,"t":32682,"u":32649},
{"s":"k","a":455,"b":457,"t":32849,"u":32845},{"s":"k","a":455,"b":457,"t":32794,"u":32784},{"s":"n","a":455,"b":457,"t":32784,"u":32682},{"s":"k","a":455,"b":457,"t":32682,"u":32662},
{"s":"k","a":459,"b":461,"t":32788,"u":32784},{"s":"n","a":459,"b":461,"t":32784,"u":32682},{"s":"k","a":459,"b":461,"t":32682,"u":32675},
{"s":"n","a":463,"b":465,"t":32784,"u":32682},{"s":"n","a":467,"b":469,"t":32774,"u":32688},{"s":"n","a":471,"b":473,"t":32774,"u":32694},{"s":"n","a":475,"b":477,"t":32773,"u":32699},{"s":"n","a":479,"b":481,"t":32772,"u":32741},{"s":"n","a":479,"b":481,"t":32731,"u":32703},{"s":"n","a":483,"b":485,"t":32765,"u":32742},{"s":"n","a":483,"b":485,"t":32725,"u":32709},{"s":"n","a":487,"b":489,"t":32765,"u":32742},{"s":"n","a":487,"b":489,"t":32724,"u":32718},{"s":"n","a":491,"b":493,"t":32764,"u":32742},{"s":"n","a":491,"b":493,"t":32724,"u":32719},{"s":"n","a":495,"b":497,"t":32764,"u":32742},{"s":"n","a":499,"b":501,"t":32762,"u":32746},
{"s":"n","a":433,"b":441.5,"t":32770,"u":32764},{"s":"m","a":434.5,"b":441.5,"t":32768.5,"u":32765.5},{"s":"e","a":443,"b":501,"t":32762,"u":32761},
{"s":"o","a":559,"b":565,"t":32837,"u":32773},{"s":"r","a":559,"b":565,"t":32773,"u":32708},{"s":"o","a":559,"b":565,"t":32708,"u":32675},{"s":"n","a":564,"b":570,"t":32967,"u":32724},{"s":"k","a":566,"b":574,"t":32724,"u":32683},{"s":"k","a":570,"b":572,"t":32962,"u":32724},
{"s":"k","a":572,"b":574,"t":33107,"u":32967},{"s":"n","a":572,"b":574,"t":32967,"u":32724},{"s":"k","a":572,"b":574,"t":32724,"u":32675},
{"s":"k","a":576,"b":578,"t":33040,"u":32967},{"s":"n","a":576,"b":578,"t":32967,"u":32920},{"s":"n","a":576,"b":578,"t":32863,"u":32723},
{"s":"k","a":580,"b":582,"t":33027,"u":32967},{"s":"n","a":580,"b":582,"t":32967,"u":32936},{"s":"n","a":580,"b":582,"t":32838,"u":32728},
{"s":"k","a":584,"b":586,"t":33021,"u":32996},{"s":"n","a":584,"b":586,"t":32837,"u":32753},{"s":"k","a":588,"b":590,"t":33005,"u":32998},{"s":"n","a":588,"b":590,"t":32830,"u":32765},{"s":"k","a":592,"b":594,"t":33001,"u":32998},{"s":"n","a":592,"b":594,"t":32824,"u":32767},{"s":"n","a":596,"b":598,"t":32803,"u":32768},{"s":"n","a":600,"b":602,"t":32796,"u":32768},{"s":"n","a":604,"b":606,"t":32773,"u":32770},
{"s":"n","a":562,"b":570,"t":32896,"u":32890},{"s":"m","a":563.5,"b":570,"t":32894.5,"u":32891.5},{"s":"e","a":572,"b":606,"t":32773,"u":32772},
{"s":"o","a":664,"b":669,"t":33008,"u":32972},{"s":"r","a":664,"b":669,"t":33007,"u":33000},{"s":"n","a":669,"b":675,"t":33066,"u":32958},{"s":"k","a":671,"b":678,"t":33091,"u":33068},{"s":"k","a":675,"b":677,"t":33068,"u":32961},
{"s":"k","a":677,"b":679,"t":33177,"u":33068},{"s":"n","a":677,"b":679,"t":33068,"u":32959},{"s":"k","a":677,"b":679,"t":32959,"u":32951},
{"s":"k","a":681,"b":683,"t":33147,"u":33128},{"s":"k","a":681,"b":683,"t":33120,"u":33068},{"s":"n","a":681,"b":683,"t":33068,"u":32959},{"s":"k","a":681,"b":683,"t":32959,"u":32952},
{"s":"k","a":685,"b":687,"t":33116,"u":33071},{"s":"n","a":685,"b":687,"t":33068,"u":33062},{"s":"n","a":685,"b":687,"t":33053,"u":33043},{"s":"n","a":685,"b":687,"t":33040,"u":33031},{"s":"n","a":685,"b":687,"t":33024,"u":32959},
{"s":"k","a":689,"b":691,"t":33106,"u":33073},{"s":"n","a":689,"b":691,"t":33020,"u":32960},{"s":"k","a":693,"b":695,"t":33095,"u":33082},{"s":"n","a":693,"b":695,"t":33017,"u":33013},{"s":"n","a":693,"b":695,"t":33010,"u":32963},{"s":"k","a":697,"b":699,"t":33090,"u":33084},{"s":"n","a":697,"b":699,"t":33009,"u":32963},{"s":"n","a":701,"b":703,"t":33008,"u":32963},{"s":"n","a":705,"b":707,"t":33007,"u":32969},{"s":"n","a":709,"b":711,"t":33006,"u":32969},{"s":"n","a":713,"b":715,"t":33005,"u":32971},{"s":"n","a":717,"b":719,"t":33004,"u":32972},{"s":"n","a":721,"b":723,"t":33003,"u":32978},{"s":"n","a":725,"b":727,"t":32997,"u":32990},{"s":"n","a":725,"b":727,"t":32986,"u":32980},
{"s":"e","a":677,"b":730,"t":32994.5,"u":32993.5},{"s":"e","a":729,"b":731,"t":32996,"u":32992},{"s":"n","a":667,"b":675,"t":33069,"u":33063},{"s":"m","a":668.5,"b":675,"t":33067.5,"u":33064.5},
{"s":"o","a":789,"b":795,"t":33184,"u":33155},{"s":"r","a":789,"b":795,"t":33155,"u":33078},{"s":"o","a":789,"b":795,"t":33078,"u":33017},{"s":"n","a":794,"b":800,"t":33328,"u":33053},{"s":"k","a":796,"b":804,"t":33053,"u":33023},{"s":"k","a":800,"b":802,"t":33303,"u":33053},
{"s":"k","a":802,"b":804,"t":33430,"u":33328},{"s":"n","a":802,"b":804,"t":33328,"u":33053},{"s":"k","a":802,"b":804,"t":33053,"u":33017},
{"s":"k","a":806,"b":808,"t":33429,"u":33347},{"s":"k","a":806,"b":808,"t":33333,"u":33328},{"s":"n","a":806,"b":808,"t":33328,"u":33235},{"s":"n","a":806,"b":808,"t":33197,"u":33053},
{"s":"k","a":810,"b":812,"t":33428,"u":33381},{"s":"k","a":810,"b":812,"t":33378,"u":33358},{"s":"n","a":810,"b":812,"t":33321,"u":33239},{"s":"n","a":810,"b":812,"t":33184,"u":33110},
{"s":"k","a":814,"b":816,"t":33422,"u":33397},{"s":"n","a":814,"b":816,"t":33306,"u":33293},{"s":"n","a":814,"b":816,"t":33291,"u":33286},{"s":"n","a":814,"b":816,"t":33174,"u":33131},
{"s":"e","a":802,"b":819,"t":33174.5,"u":33173.5},{"s":"e","a":818,"b":820,"t":33176,"u":33172},{"s":"n","a":792,"b":800,"t":33228,"u":33222},{"s":"m","a":793.5,"b":800,"t":33226.5,"u":33223.5},
{"s":"r","a":878,"b":884,"t":33399,"u":33359},{"s":"o","a":878,"b":884,"t":33359,"u":33352},{"s":"n","a":883,"b":889,"t":33429,"u":33372},{"s":"k","a":885,"b":892,"t":33431,"u":33429},{"s":"k","a":885,"b":892,"t":33372,"u":33368},{"s":"k","a":889,"b":891,"t":33429,"u":33372},
{"s":"k","a":891,"b":893,"t":33484,"u":33429},{"s":"n","a":891,"b":893,"t":33429,"u":33372},{"s":"k","a":891,"b":893,"t":33372,"u":33352},
{"s":"k","a":895,"b":897,"t":33470,"u":33429},{"s":"n","a":895,"b":897,"t":33429,"u":33372},{"s":"k","a":895,"b":897,"t":33372,"u":33355},
{"s":"k","a":899,"b":901,"t":33456,"u":33429},{"s":"n","a":899,"b":901,"t":33429,"u":33372},{"s":"k","a":899,"b":901,"t":33372,"u":33357},
{"s":"k","a":903,"b":905,"t":33454,"u":33429},{"s":"n","a":903,"b":905,"t":33429,"u":33372},{"s":"k","a":903,"b":905,"t":33372,"u":33360},
{"s":"k","a":907,"b":909,"t":33451,"u":33429},{"s":"n","a":907,"b":909,"t":33429,"u":33372},{"s":"k","a":907,"b":909,"t":33372,"u":33360},
{"s":"k","a":911,"b":913,"t":33451,"u":33429},{"s":"n","a":911,"b":913,"t":33429,"u":33372},{"s":"k","a":911,"b":913,"t":33372,"u":33364},
{"s":"k","a":915,"b":917,"t":33446,"u":33429},{"s":"n","a":915,"b":917,"t":33429,"u":33372},{"s":"k","a":915,"b":917,"t":33372,"u":33368},
{"s":"k","a":919,"b":921,"t":33435,"u":33429},{"s":"n","a":919,"b":921,"t":33429,"u":33372},{"s":"n","a":923,"b":925,"t":33429,"u":33371},{"s":"n","a":927,"b":929,"t":33429,"u":33372},{"s":"n","a":931,"b":933,"t":33428,"u":33376},{"s":"n","a":935,"b":937,"t":33427,"u":33379},{"s":"n","a":939,"b":941,"t":33427,"u":33411},{"s":"n","a":939,"b":941,"t":33409,"u":33401},{"s":"n","a":939,"b":941,"t":33400,"u":33394},{"s":"n","a":939,"b":941,"t":33388,"u":33380},{"s":"n","a":943,"b":945,"t":33417,"u":33413},{"s":"n","a":943,"b":945,"t":33404,"u":33396},{"s":"n","a":947,"b":949,"t":33415,"u":33413},{"s":"n","a":947,"b":949,"t":33404,"u":33396},
{"s":"e","a":893,"b":952,"t":33399.5,"u":33398.5},{"s":"e","a":951,"b":953,"t":33401,"u":33397},{"s":"n","a":881,"b":889,"t":33422,"u":33416},{"s":"m","a":882.5,"b":889,"t":33420.5,"u":33417.5},
{"s":"o","a":1011,"b":1016,"t":33512,"u":33496},{"s":"r","a":1011,"b":1016,"t":33496,"u":33404},{"s":"n","a":1016,"b":1022,"t":33512,"u":33405},{"s":"k","a":1022,"b":1024,"t":33512,"u":33436},
{"s":"n","a":1024,"b":1026,"t":33512,"u":33405},{"s":"k","a":1024,"b":1026,"t":33405,"u":33392},{"s":"n","a":1028,"b":1030,"t":33512,"u":33405},{"s":"k","a":1028,"b":1030,"t":33405,"u":33399},{"s":"n","a":1032,"b":1034,"t":33512,"u":33405},{"s":"n","a":1036,"b":1038,"t":33512,"u":33407},{"s":"n","a":1040,"b":1042,"t":33512,"u":33474},{"s":"n","a":1040,"b":1042,"t":33467,"u":33408},{"s":"n","a":1044,"b":1046,"t":33508,"u":33500},{"s":"n","a":1044,"b":1046,"t":33496,"u":33476},{"s":"n","a":1044,"b":1046,"t":33467,"u":33411},{"s":"n","a":1048,"b":1050,"t":33465,"u":33433},{"s":"n","a":1052,"b":1054,"t":33452,"u":33441},{"s":"n","a":1056,"b":1058,"t":33450,"u":33448},
{"s":"e","a":1024,"b":1057,"t":33451,"u":33450},{"s":"n","a":1014,"b":1022,"t":33496,"u":33490},{"s":"m","a":1015.5,"b":1022,"t":33494.5,"u":33491.5},
{"s":"o","a":1116,"b":1121,"t":33469,"u":33456},{"s":"r","a":1116,"b":1121,"t":33456,"u":33441},{"s":"n","a":1121,"b":1127,"t":33492,"u":33457},{"s":"k","a":1123,"b":1130,"t":33493,"u":33492},{"s":"k","a":1123,"b":1130,"t":33457,"u":33453},{"s":"k","a":1127,"b":1129,"t":33492,"u":33457},
{"s":"k","a":1129,"b":1131,"t":33512,"u":33492},{"s":"n","a":1129,"b":1131,"t":33492,"u":33457},{"s":"k","a":1129,"b":1131,"t":33457,"u":33421},
{"s":"k","a":1133,"b":1135,"t":33509,"u":33492},{"s":"n","a":1133,"b":1135,"t":33492,"u":33457},{"s":"k","a":1133,"b":1135,"t":33457,"u":33433},
{"s":"k","a":1137,"b":1139,"t":33506,"u":33492},{"s":"n","a":1137,"b":1139,"t":33492,"u":33457},{"s":"k","a":1137,"b":1139,"t":33457,"u":33435},
{"s":"k","a":1141,"b":1143,"t":33505,"u":33492},{"s":"n","a":1141,"b":1143,"t":33492,"u":33457},{"s":"k","a":1141,"b":1143,"t":33457,"u":33441},
{"s":"k","a":1145,"b":1147,"t":33502,"u":33492},{"s":"n","a":1145,"b":1147,"t":33492,"u":33457},{"s":"k","a":1145,"b":1147,"t":33457,"u":33447},
{"s":"k","a":1149,"b":1151,"t":33499,"u":33492},{"s":"n","a":1149,"b":1151,"t":33492,"u":33457},{"s":"k","a":1149,"b":1151,"t":33457,"u":33450},
{"s":"k","a":1153,"b":1155,"t":33499,"u":33492},{"s":"n","a":1153,"b":1155,"t":33492,"u":33457},{"s":"k","a":1153,"b":1155,"t":33457,"u":33451},
{"s":"k","a":1157,"b":1159,"t":33498,"u":33492},{"s":"n","a":1157,"b":1159,"t":33492,"u":33457},{"s":"k","a":1157,"b":1159,"t":33457,"u":33453},
{"s":"k","a":1161,"b":1163,"t":33497,"u":33492},{"s":"n","a":1161,"b":1163,"t":33492,"u":33457},{"s":"k","a":1161,"b":1163,"t":33457,"u":33456},
{"s":"n","a":1165,"b":1167,"t":33492,"u":33456},{"s":"n","a":1169,"b":1171,"t":33494,"u":33456},{"s":"n","a":1173,"b":1175,"t":33492,"u":33456},{"s":"n","a":1177,"b":1179,"t":33491,"u":33458},{"s":"n","a":1181,"b":1183,"t":33490,"u":33459},{"s":"n","a":1185,"b":1187,"t":33489,"u":33462},{"s":"n","a":1189,"b":1191,"t":33488,"u":33471},{"s":"n","a":1189,"b":1191,"t":33465,"u":33462},{"s":"n","a":1193,"b":1195,"t":33487,"u":33485},{"s":"n","a":1193,"b":1195,"t":33484,"u":33473},{"s":"n","a":1197,"b":1199,"t":33484,"u":33476},{"s":"n","a":1201,"b":1203,"t":33483,"u":33476},{"s":"n","a":1205,"b":1207,"t":33482,"u":33476},
{"s":"e","a":1129,"b":1210,"t":33480,"u":33479},{"s":"e","a":1209,"b":1211,"t":33481,"u":33477},{"s":"n","a":1119,"b":1127,"t":33471,"u":33465},{"s":"m","a":1120.5,"b":1127,"t":33469.5,"u":33466.5},
{"s":"o","a":1269,"b":1275,"t":33470,"u":33211},{"s":"r","a":1269,"b":1275,"t":33458,"u":33420},{"s":"n","a":1274,"b":1280,"t":33420,"u":33149},{"s":"k","a":1276,"b":1284,"t":33149,"u":33135},{"s":"k","a":1280,"b":1282,"t":33355,"u":33149},
{"s":"k","a":1282,"b":1284,"t":33470,"u":33420},{"s":"n","a":1282,"b":1284,"t":33420,"u":33149},{"s":"k","a":1282,"b":1284,"t":33149,"u":33068},
{"s":"k","a":1286,"b":1288,"t":33457,"u":33420},{"s":"n","a":1286,"b":1288,"t":33420,"u":33376},{"s":"n","a":1286,"b":1288,"t":33363,"u":33150},{"s":"k","a":1286,"b":1288,"t":33132,"u":33086},
{"s":"n","a":1272,"b":1280,"t":33274,"u":33268},{"s":"m","a":1273.5,"b":1280,"t":33272.5,"u":33269.5},{"s":"e","a":1282,"b":1288,"t":33270.5,"u":33269.5},
{"s":"r","a":1415,"b":1421,"t":32832,"u":32821},{"s":"o","a":1415,"b":1421,"t":32821,"u":32798},{"s":"n","a":1420,"b":1426,"t":32809,"u":32767},{"s":"k","a":1422,"b":1429,"t":32813,"u":32809},{"s":"k","a":1426,"b":1428,"t":32809,"u":32773},
{"s":"k","a":1428,"b":1430,"t":32832,"u":32809},{"s":"n","a":1428,"b":1430,"t":32809,"u":32768},{"s":"k","a":1428,"b":1430,"t":32768,"u":32747},
{"s":"k","a":1432,"b":1434,"t":32828,"u":32809},{"s":"n","a":1432,"b":1434,"t":32809,"u":32768},{"s":"k","a":1432,"b":1434,"t":32768,"u":32752},
{"s":"k","a":1436,"b":1438,"t":32817,"u":32809},{"s":"n","a":1436,"b":1438,"t":32809,"u":32768},{"s":"k","a":1436,"b":1438,"t":32768,"u":32754},
{"s":"k","a":1440,"b":1442,"t":32816,"u":32809},{"s":"n","a":1440,"b":1442,"t":32809,"u":32768},{"s":"k","a":1440,"b":1442,"t":32768,"u":32763},
{"s":"k","a":1444,"b":1446,"t":32812,"u":32808},{"s":"n","a":1444,"b":1446,"t":32806,"u":32768},{"s":"n","a":1448,"b":1450,"t":32806,"u":32795},{"s":"n","a":1448,"b":1450,"t":32792,"u":32770},{"s":"n","a":1452,"b":1454,"t":32803,"u":32798},{"s":"n","a":1452,"b":1454,"t":32789,"u":32770},{"s":"n","a":1456,"b":1458,"t":32803,"u":32798},{"s":"n","a":1456,"b":1458,"t":32788,"u":32771},
{"s":"e","a":1428,"b":1461,"t":32781,"u":32780},{"s":"e","a":1460,"b":1462,"t":32782,"u":32778},{"s":"n","a":1418,"b":1426,"t":32794,"u":32788},{"s":"m","a":1419.5,"b":1426,"t":32792.5,"u":32789.5},
{"s":"b","a":1,"b":11,"t":33513,"u":33505},{"s":"l","a":13,"b":43,"t":33516,"u":33505},{"s":"b","a":1647,"b":1659,"t":33516,"u":33503}
],
"stars":[{"x":120.7,"y":32654},{"x":237.5,"y":32603},{"x":343,"y":32857},{"x":500,"y":32744},{"x":592.7,"y":33007},{"x":689.7,"y":33134},{"x":823,"y":33410},{"x":923.7,"y":33439},{"x":1056.7,"y":33456},{"x":1145.7,"y":33441},{"x":1295,"y":33115},{"x":1457,"y":32804}],
"notes":[{"label":"i","x":6,"y":33509,"s":"w"},{"label":"YMH3","x":28,"y":33510.5,"s":"d"},{"label":"M","x":1653,"y":33509.5,"s":"w"},{"label":"▲","x":1667.5,"y":33509,"s":"k"},{"label":"▼","x":1667.5,"y":32592,"s":"k"},{"label":"◀","x":7,"y":32563,"s":"k"},{"label":"▶","x":1616,"y":32563,"s":"k"}]
},
"layer":[
{"data":{"name":"back"},"mark":{"type":"rect"},"encoding":{
"x":{"field":"a","type":"quantitative","scale":{"domain":[0,1617],"nice":false,"zero":false},"axis":{"title":null,"orient":"bottom","grid":false,"domain":false,"ticks":false,"zindex":1,"values":[9,103,213,334,443,571,676,802,890,1023,1128,1281,1358,1427],"labelExpr":"{'9':'/23','103':'6:30','213':'2/28/23','334':'6:30','443':'3/1/23','571':'6:30','676':'3/2/23','802':'6:30','890':'3/5','1023':'6:30','1128':'3/6/23','1281':'6:30','1358':'3/7','1427':'3/8'}[datum.value]","labelAlign":"left","labelBaseline":"top","labelOffset":2,"labelPadding":3,"labelFont":"DejaVu Sans Mono","labelFontSize":12.5,"labelColor":"#222222","labelOverlap":false,"labelFlush":false,"labelBound":false}},
"x2":{"field":"b"},
"y":{"field":"t","type":"quantitative","scale":{"domain":[32585,33516],"nice":false,"zero":false},"axis":null},
"y2":{"field":"u"},
"color":{"field":"s","type":"nominal","legend":null,"scale":{"domain":["k","n","r","o","g","p","d","e","m","c","w","x","v","h","b","l"],"range":["#000000","#000080","#ff0000","#f5cd8f","#a3f0a3","#fad04f","#85817a","#f23a2e","#9d9c9c","#f0f0f0","#fbfbfb","#808080","#b6b4ae","#ffd700","#c80000","#ffff99"]}}}},
{"data":{"name":"levels"},"mark":{"type":"text","font":"DejaVu Sans Mono","fontSize":11.3,"color":"#222222","align":"left","baseline":"middle"},"encoding":{
"x":{"datum":1619.5,"type":"quantitative","scale":{"domain":[0,1617],"nice":false,"zero":false},"axis":{"labelOverlap":false}},
"y":{"field":"y","type":"quantitative","scale":{"domain":[32585,33516],"nice":false,"zero":false},"axis":null},
"text":{"field":"y","type":"quantitative","format":"d"}}},
{"data":{"name":"vp"},"mark":{"type":"area","orient":"horizontal","interpolate":"step","color":"#33304a"},"encoding":{
"x":{"field":"x","type":"quantitative","scale":{"domain":[0,1617],"nice":false,"zero":false},"axis":{"labelOverlap":false}},
"x2":{"field":"b"},
"y":{"field":"y","type":"quantitative","scale":{"domain":[32585,33516],"nice":false,"zero":false},"axis":null},
"detail":{"field":"p"}}},
{"data":{"name":"front"},"mark":{"type":"rect"},"encoding":{
"x":{"field":"a","type":"quantitative","scale":{"domain":[0,1617],"nice":false,"zero":false},"axis":{"labelOverlap":false}},
"x2":{"field":"b"},
"y":{"field":"t","type":"quantitative","scale":{"domain":[32585,33516],"nice":false,"zero":false},"axis":null},
"y2":{"field":"u"},
"color":{"field":"s","type":"nominal","legend":null,"scale":{"domain":["k","n","r","o","g","p","d","e","m","c","w","x","v","h","b","l"],"range":["#000000","#000080","#ff0000","#f5cd8f","#a3f0a3","#fad04f","#85817a","#f23a2e","#9d9c9c","#f0f0f0","#fbfbfb","#808080","#b6b4ae","#ffd700","#c80000","#ffff99"]}}}},
{"data":{"name":"stars"},"mark":{"type":"point","shape":"M0,-1L0,1M-0.87,-0.5L0.87,0.5M-0.87,0.5L0.87,-0.5","filled":false,"stroke":"#f23a2e","strokeWidth":1.1,"size":81,"opacity":1},"encoding":{
"x":{"field":"x","type":"quantitative","scale":{"domain":[0,1617],"nice":false,"zero":false},"axis":{"labelOverlap":false}},
"y":{"field":"y","type":"quantitative","scale":{"domain":[32585,33516],"nice":false,"zero":false},"axis":null}}},
{"data":{"name":"notes"},"mark":{"type":"text","font":"DejaVu Sans Mono","fontSize":10,"fontWeight":"bold","align":"center","baseline":"middle"},"encoding":{
"x":{"field":"x","type":"quantitative","scale":{"domain":[0,1617],"nice":false,"zero":false},"axis":{"labelOverlap":false}},
"y":{"field":"y","type":"quantitative","scale":{"domain":[32585,33516],"nice":false,"zero":false},"axis":null},
"text":{"field":"label"},
"color":{"field":"s","type":"nominal","legend":null,"scale":{"domain":["k","n","r","o","g","p","d","e","m","c","w","x","v","h","b","l"],"range":["#000000","#000080","#ff0000","#f5cd8f","#a3f0a3","#fad04f","#85817a","#f23a2e","#9d9c9c","#f0f0f0","#fbfbfb","#808080","#b6b4ae","#ffd700","#c80000","#ffff99"]}}}}
]}
